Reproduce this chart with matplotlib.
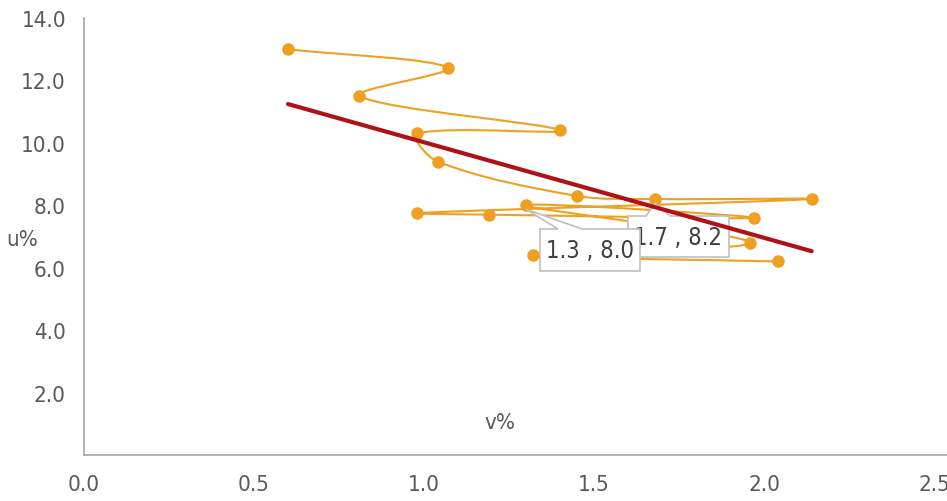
import numpy as np
import matplotlib
matplotlib.use("Agg")
import matplotlib.pyplot as plt
from matplotlib import font_manager as fm
from matplotlib.path import Path
from matplotlib.patches import PathPatch, Polygon

# pick a narrow sans face if one is installed, otherwise Roboto light
narrow = [f for f in fm.fontManager.ttflist
          if 'Sans' in f.name and ('Narrow' in f.name or 'Condensed' in f.name
                                   or f.stretch in ('condensed', 'semi-condensed'))]
if narrow:
    plt.rcParams['font.family'] = [narrow[0].name, 'DejaVu Sans']
    plt.rcParams['font.stretch'] = narrow[0].stretch
    fsize = 16
else:
    plt.rcParams['font.family'] = ['Roboto', 'DejaVu Sans']
    plt.rcParams['font.weight'] = 'light'
    fsize = 16

# v% (x) and u% (y), in plotting order
v = [0.60, 1.07, 0.81, 1.40, 0.98, 1.04, 1.45, 1.68, 2.14, 0.98, 1.19, 1.97, 1.30, 1.96, 1.32, 2.04]
u = [13.0, 12.4, 11.5, 10.4, 10.3, 9.4, 8.3, 8.2, 8.2, 7.75, 7.7, 7.6, 8.0, 6.8, 6.4, 6.2]
labelled = [12, 7]   # points that carry a data label

x_ticks = [0.0, 0.5, 1.0, 1.5, 2.0, 2.5]
y_ticks = [2.0, 4.0, 6.0, 8.0, 10.0, 12.0, 14.0]

orange = '#EFA021'
red = '#AE1116'
grey_txt = '#595959'
W, H = 947, 502

fig = plt.figure(figsize=(W / 100, H / 100), dpi=100)
ax = fig.add_axes([84 / W, 1 - 456 / H, 1 - 84 / W, (456 - 19) / H])
ax.set_xlim(0, 2.538)
ax.set_ylim(0, 14.0)

# smoothed line (Bezier segments, tangents scaled by neighbouring segment lengths, in pixels)
P = ax.transData.transform(np.column_stack([v, u]))
n = len(P)
d = np.hypot(*np.diff(P, axis=0).T)
verts = [P[0]]
codes = [Path.MOVETO]
for i in range(n - 1):
    if i > 0:
        c1 = P[i] + (P[i + 1] - P[i - 1]) / 3 * d[i] / (d[i - 1] + d[i])
    else:
        c1 = P[i] + (P[i + 1] - P[i]) / 3
    if i + 2 < n:
        c2 = P[i + 1] - (P[i + 2] - P[i]) / 3 * d[i] / (d[i] + d[i + 1])
    else:
        c2 = P[i + 1] - (P[i + 1] - P[i]) / 3
    verts += [c1, c2, P[i + 1]]
    codes += [Path.CURVE4] * 3
verts = ax.transData.inverted().transform(np.array(verts))
ax.add_patch(PathPatch(Path(verts, codes), fill=False, ec=orange, lw=1.5, zorder=2))
ax.plot(v, u, 'o', color=orange, ms=8, zorder=3)

# linear trendline
slope, icpt = np.polyfit(v, u, 1)
tx = np.array([min(v), max(v)])
ax.plot(tx, slope * tx + icpt, color=red, lw=3, solid_capstyle='round', zorder=6)

# data label callouts: box (left, top, width, height in px from top-left) with a pointer
boxes = [(540, 230, 100, 42), (628, 217, 101, 41)]
for k, (i, (bl, bt, bw, bh)) in enumerate(zip(labelled, boxes)):
    tipx, tipy = P[i]
    L, R = bl, bl + bw
    T, B = H - bt, H - bt - bh
    shape = [(L, B), (R, B), (R, T), (L + 42, T), (tipx, tipy - 4), (L + 18, T), (L, T)]
    z = 5.4 - k * 0.5
    ax.add_patch(Polygon(shape, closed=True, fc='white', ec='#BFBFBF', lw=1.2,
                         transform=None, zorder=z))
    ax.text((L + R) / 2 / W, (T + B) / 2 / H, f"{v[i]:.1f} , {u[i]:.1f}",
            transform=fig.transFigure, ha='center', va='center', fontsize=fsize + 1,
            color='#404040', zorder=z + 0.01)

ax.set_xticks(x_ticks)
ax.set_xticklabels([f"{t:.1f}" for t in x_ticks])
ax.set_yticks(y_ticks)
ax.set_yticklabels([f"{t:.1f}" for t in y_ticks])
ax.tick_params(length=0, labelsize=fsize, colors=grey_txt)
ax.tick_params(axis='x', pad=14)
ax.tick_params(axis='y', pad=13)
for s in ['top', 'right']:
    ax.spines[s].set_visible(False)
for s in ['left', 'bottom']:
    ax.spines[s].set_color('#A6A6A6')
    ax.spines[s].set_linewidth(1.2)

fig.text(22 / W, 1 - 240 / H, 'u%', ha='center', va='center', fontsize=fsize, color=grey_txt)
fig.text(500 / W, 1 - 423 / H, 'v%', ha='center', va='center', fontsize=fsize, color=grey_txt)

fig.savefig('out.png', dpi=100)
